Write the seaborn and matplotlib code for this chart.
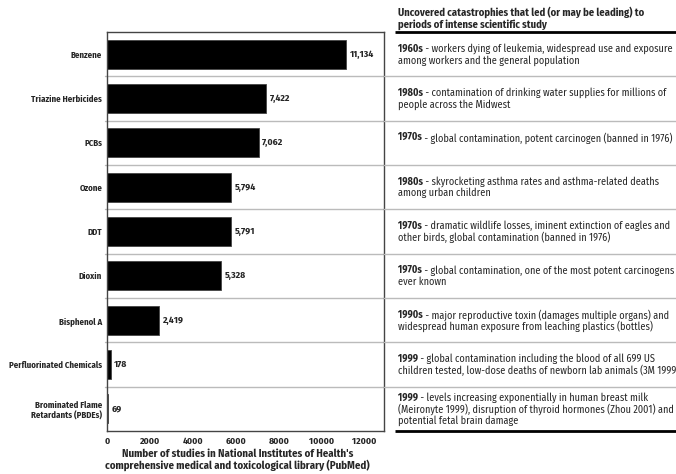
import matplotlib.pyplot as plt
import seaborn as sns

sns.set_style("white")
plt.rcParams['font.family'] = ['Fira Sans Condensed', 'Roboto Condensed', 'DejaVu Sans']

chemicals = ["Benzene", "Triazine Herbicides", "PCBs", "Ozone", "DDT", "Dioxin",
             "Bisphenol A", "Perfluorinated Chemicals", "Brominated Flame\nRetardants (PBDEs)"]
studies = [11134, 7422, 7062, 5794, 5791, 5328, 2419, 178, 69]
decades = ["1960s", "1980s", "1970s", "1980s", "1970s", "1970s", "1990s", "1999", "1999"]
events = [
    " - workers dying of leukemia, widespread use and exposure\namong workers and the general population",
    " - contamination of drinking water supplies for millions of\npeople across the Midwest",
    " - global contamination, potent carcinogen (banned in 1976)\n",
    " - skyrocketing asthma rates and asthma-related deaths\namong urban children",
    " - dramatic wildlife losses, iminent extinction of eagles and\nother birds, global contamination (banned in 1976)",
    " - global contamination, one of the most potent carcinogens\never known",
    " - major reproductive toxin (damages multiple organs) and\nwidespread human exposure from leaching plastics (bottles)",
    " - global contamination including the blood of all 699 US\nchildren tested, low-dose deaths of newborn lab animals (3M 1999)",
    " - levels increasing exponentially in human breast milk\n(Meironyte 1999), disruption of thyroid hormones (Zhou 2001) and\npotential fetal brain damage",
]
header = "Uncovered catastrophies that led (or may be leading) to\nperiods of intense scientific study"
xticks = [0, 2000, 4000, 6000, 8000, 10000, 12000]

W, H = 676, 474
fig = plt.figure(figsize=(W / 100, H / 100), dpi=100)
ax = fig.add_axes([107 / W, 1 - 431 / H, 277 / W, 399 / H])
tab = fig.add_axes([384 / W, 1 - 431 / H, 292 / W, 399 / H], sharey=ax)

sns.barplot(x=studies, y=chemicals, color="black", orient="h", width=0.65,
            edgecolor="#444444", linewidth=0.6, ax=ax)
ax.set_xlim(0, 12900)
ax.set_ylim(len(chemicals) - 0.5, -0.5)
ax.set_xticks(xticks)
ax.set_xticklabels([str(t) for t in xticks], fontsize=6.9, fontweight="bold")
ax.set_yticks(range(len(chemicals)))
ax.set_yticklabels(chemicals, fontsize=6.3, fontweight="bold")
ax.tick_params(axis="x", length=0, pad=4)
ax.tick_params(axis="y", length=0, pad=3.5)
ax.set_xlabel("Number of studies in National Institutes of Health's\n"
              "comprehensive medical and toxicological library (PubMed)",
              fontsize=7.8, fontweight="bold", linespacing=1.05)
ax.xaxis.set_label_coords(0.47, -0.043)
ax.set_ylabel("")
for s in ["left", "top", "right", "bottom"]:
    ax.spines[s].set_color("#444444")
    ax.spines[s].set_linewidth(1)

ax.bar_label(ax.containers[0], labels=[f"{v:,}" for v in studies], padding=2.5,
             fontsize=7, fontweight="bold")

for i in range(len(chemicals) - 1):
    ax.axhline(i + 0.5, xmin=-0.008, xmax=1, color="#bbbbbb", lw=1, clip_on=False)
    tab.axhline(i + 0.5, color="#bbbbbb", lw=1)

tab.set_xlim(0, 1)
tab.axis("off")
tab.plot([0.038, 1], [-0.5, -0.5], color="black", lw=2, clip_on=False, solid_capstyle="butt")
tab.plot([0.038, 1], [len(chemicals) - 0.5] * 2, color="black", lw=2, clip_on=False,
         solid_capstyle="butt")

# each description block is centred in its row
lh = 0.262
for i, (d, e) in enumerate(zip(decades, events)):
    lines = e.split("\n")
    n = len(lines)
    y0 = i - (n - 1) * lh / 2 + 0.075
    b = tab.text(0.048, y0, d, fontsize=7.35, fontweight="bold", va="baseline", ha="left")
    tab.annotate(lines[0], xy=(1, 1), xycoords=b, va="top", ha="left", fontsize=7.35)
    for k, line in enumerate(lines[1:], start=1):
        tab.text(0.048, y0 + k * lh, line, fontsize=7.35, va="baseline", ha="left")

fig.text(398 / W, 1 - 6 / H, header, fontsize=7.6, fontweight="bold", va="top", ha="left",
         linespacing=1.2)

fig.savefig("out.png", dpi=100)
